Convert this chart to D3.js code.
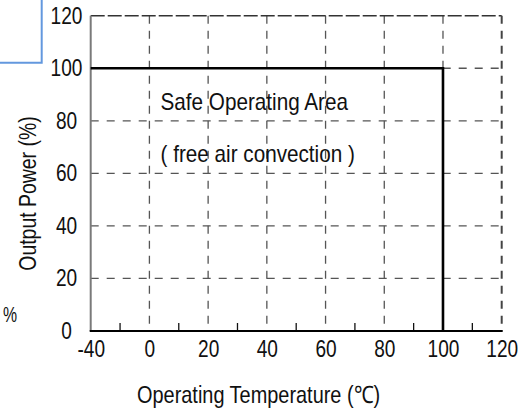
<!DOCTYPE html>
<html>
<head>
<meta charset="utf-8">
<script src="https://cdn.jsdelivr.net/npm/d3@7"></script>
<style>
  html, body { margin: 0; padding: 0; background: #fff; }
  svg { display: block; }
  text { font-family: 'Liberation Sans', Arial, sans-serif; fill: #111; }
</style>
</head>
<body>
<svg id="chart" width="528" height="412"></svg>
<script>
// ---- data ----
const xTickValues = [-40, 0, 20, 40, 60, 80, 100, 120];
const xMinorValues = [-20, 10, 30, 50, 70, 90, 110];
const yTickValues = [0, 20, 40, 60, 80, 100, 120];
const curveTemp = [-40, 100, 100];
const curvePower = [100, 100, 0];
const xTitle = "Operating Temperature (℃)";
const yTitle = "Output Power (%)";
const noteLines = ["Safe Operating Area", "( free air convection )"];

(function () {
// ---- layout ----
const svg = d3.select("#chart");
const pLeft = 90.7, pRight = 501.7, pTop = 15.7, pBottom = 331;
const cell = (pRight - pLeft) / 7;

// broken axis: -40..0 takes one cell, then 20 per cell
const x = d3.scaleLinear().domain([-40, 0, 120]).range([pLeft, pLeft + cell, pRight]);
const y = d3.scaleLinear().domain([0, 120]).range([pBottom, pTop]);

// condensed text helper (emulates a narrow face)
function narrowText(tx, ty, str, size, sx, anchor, rot) {
  const g = svg.append("g")
    .attr("transform", `translate(${tx},${ty})` + (rot ? ` rotate(${rot})` : "") + ` scale(${sx},1)`);
  return g.append("text").attr("text-anchor", anchor || "start")
    .style("font-size", size + "px").text(str);
}

// decorative blue box fragment (top-left)
svg.append("path")
  .attr("d", d3.line()([[0, 62.7], [41.7, 62.7], [41.7, 0]]))
  .attr("fill", "none").attr("stroke", "#6398de").attr("stroke-width", 2);

// grid: vertical dashed
const gridColor = "#555";
svg.append("g").selectAll("line").data(xTickValues.filter(v => v > -40 && v < 120)).join("line")
  .attr("x1", d => x(d)).attr("x2", d => x(d))
  .attr("y1", y(120)).attr("y2", y(0))
  .attr("stroke", gridColor).attr("stroke-width", 1.3).attr("stroke-dasharray", "8,7");
// grid: horizontal dashed
svg.append("g").selectAll("line").data(yTickValues.filter(v => v > 0 && v < 120)).join("line")
  .attr("x1", x(-40)).attr("x2", x(120))
  .attr("y1", d => y(d)).attr("y2", d => y(d))
  .attr("stroke", gridColor).attr("stroke-width", 1.3).attr("stroke-dasharray", "8,8");
// top & right borders (dashed, darker)
svg.append("line").attr("x1", x(-40)).attr("x2", x(120)).attr("y1", y(120)).attr("y2", y(120))
  .attr("stroke", "#333").attr("stroke-width", 1.5).attr("stroke-dasharray", "14,3");
svg.append("line").attr("x1", x(120)).attr("x2", x(120)).attr("y1", y(120)).attr("y2", y(0))
  .attr("stroke", "#444").attr("stroke-width", 2).attr("stroke-dasharray", "8,7");

// y axis line (gray)
svg.append("line").attr("x1", x(-40)).attr("x2", x(-40)).attr("y1", y(120)).attr("y2", y(0))
  .attr("stroke", "#7a7a7a").attr("stroke-width", 2);

// minor ticks on x axis
svg.append("g").selectAll("line").data(xMinorValues).join("line")
  .attr("x1", d => x(d)).attr("x2", d => x(d))
  .attr("y1", y(0)).attr("y2", y(0) - 8)
  .attr("stroke", "#111").attr("stroke-width", 1.3);

// x axis line (black)
svg.append("line").attr("x1", x(-40) - 1).attr("x2", x(120) + 1).attr("y1", y(0)).attr("y2", y(0))
  .attr("stroke", "#000").attr("stroke-width", 2);

// derating curve
svg.append("path")
  .datum(curveTemp.map((t, i) => [t, curvePower[i]]))
  .attr("d", d3.line().x(d => x(d[0])).y(d => y(d[1])))
  .attr("fill", "none").attr("stroke", "#000").attr("stroke-width", 2.6);

// axes labels via d3 axes
const fs = 23, tsx = 0.83;
const gx = svg.append("g").attr("transform", `translate(0,${pBottom})`)
  .call(d3.axisBottom(x).tickValues(xTickValues).tickSize(0).tickPadding(9.5).tickFormat(d => String(d)));
gx.select(".domain").remove();
gx.attr("font-family", null).attr("font-size", null);
gx.selectAll("text").style("font-size", fs + "px").attr("fill", "#111")
  .attr("transform", `scale(${tsx},1)`);

// y tick labels are centred in a column left of the axis
const yLabelCenter = 66.5;
const gy = svg.append("g").attr("transform", `translate(${pLeft},0)`)
  .call(d3.axisLeft(y).tickValues(yTickValues).tickSize(0).tickFormat(d => String(d)));
gy.select(".domain").remove();
gy.attr("font-family", null).attr("font-size", null);
gy.selectAll("text").style("font-size", fs + "px").attr("fill", "#111")
  .attr("text-anchor", "middle")
  .attr("x", (yLabelCenter - pLeft) / tsx).attr("transform", `scale(${tsx},1)`);

// annotation
narrowText(160.5, 110, noteLines[0], 23, 0.9);
narrowText(160.5, 161.5, noteLines[1], 23, 0.9);

// axis titles
narrowText(137, 403, xTitle, 24, 0.83);
narrowText(36, 193.5, yTitle, 24, 0.81, "middle", -90);

// stray percent sign at left
narrowText(3, 322, "%", 22, 0.72);
})();
</script>
</body>
</html>
